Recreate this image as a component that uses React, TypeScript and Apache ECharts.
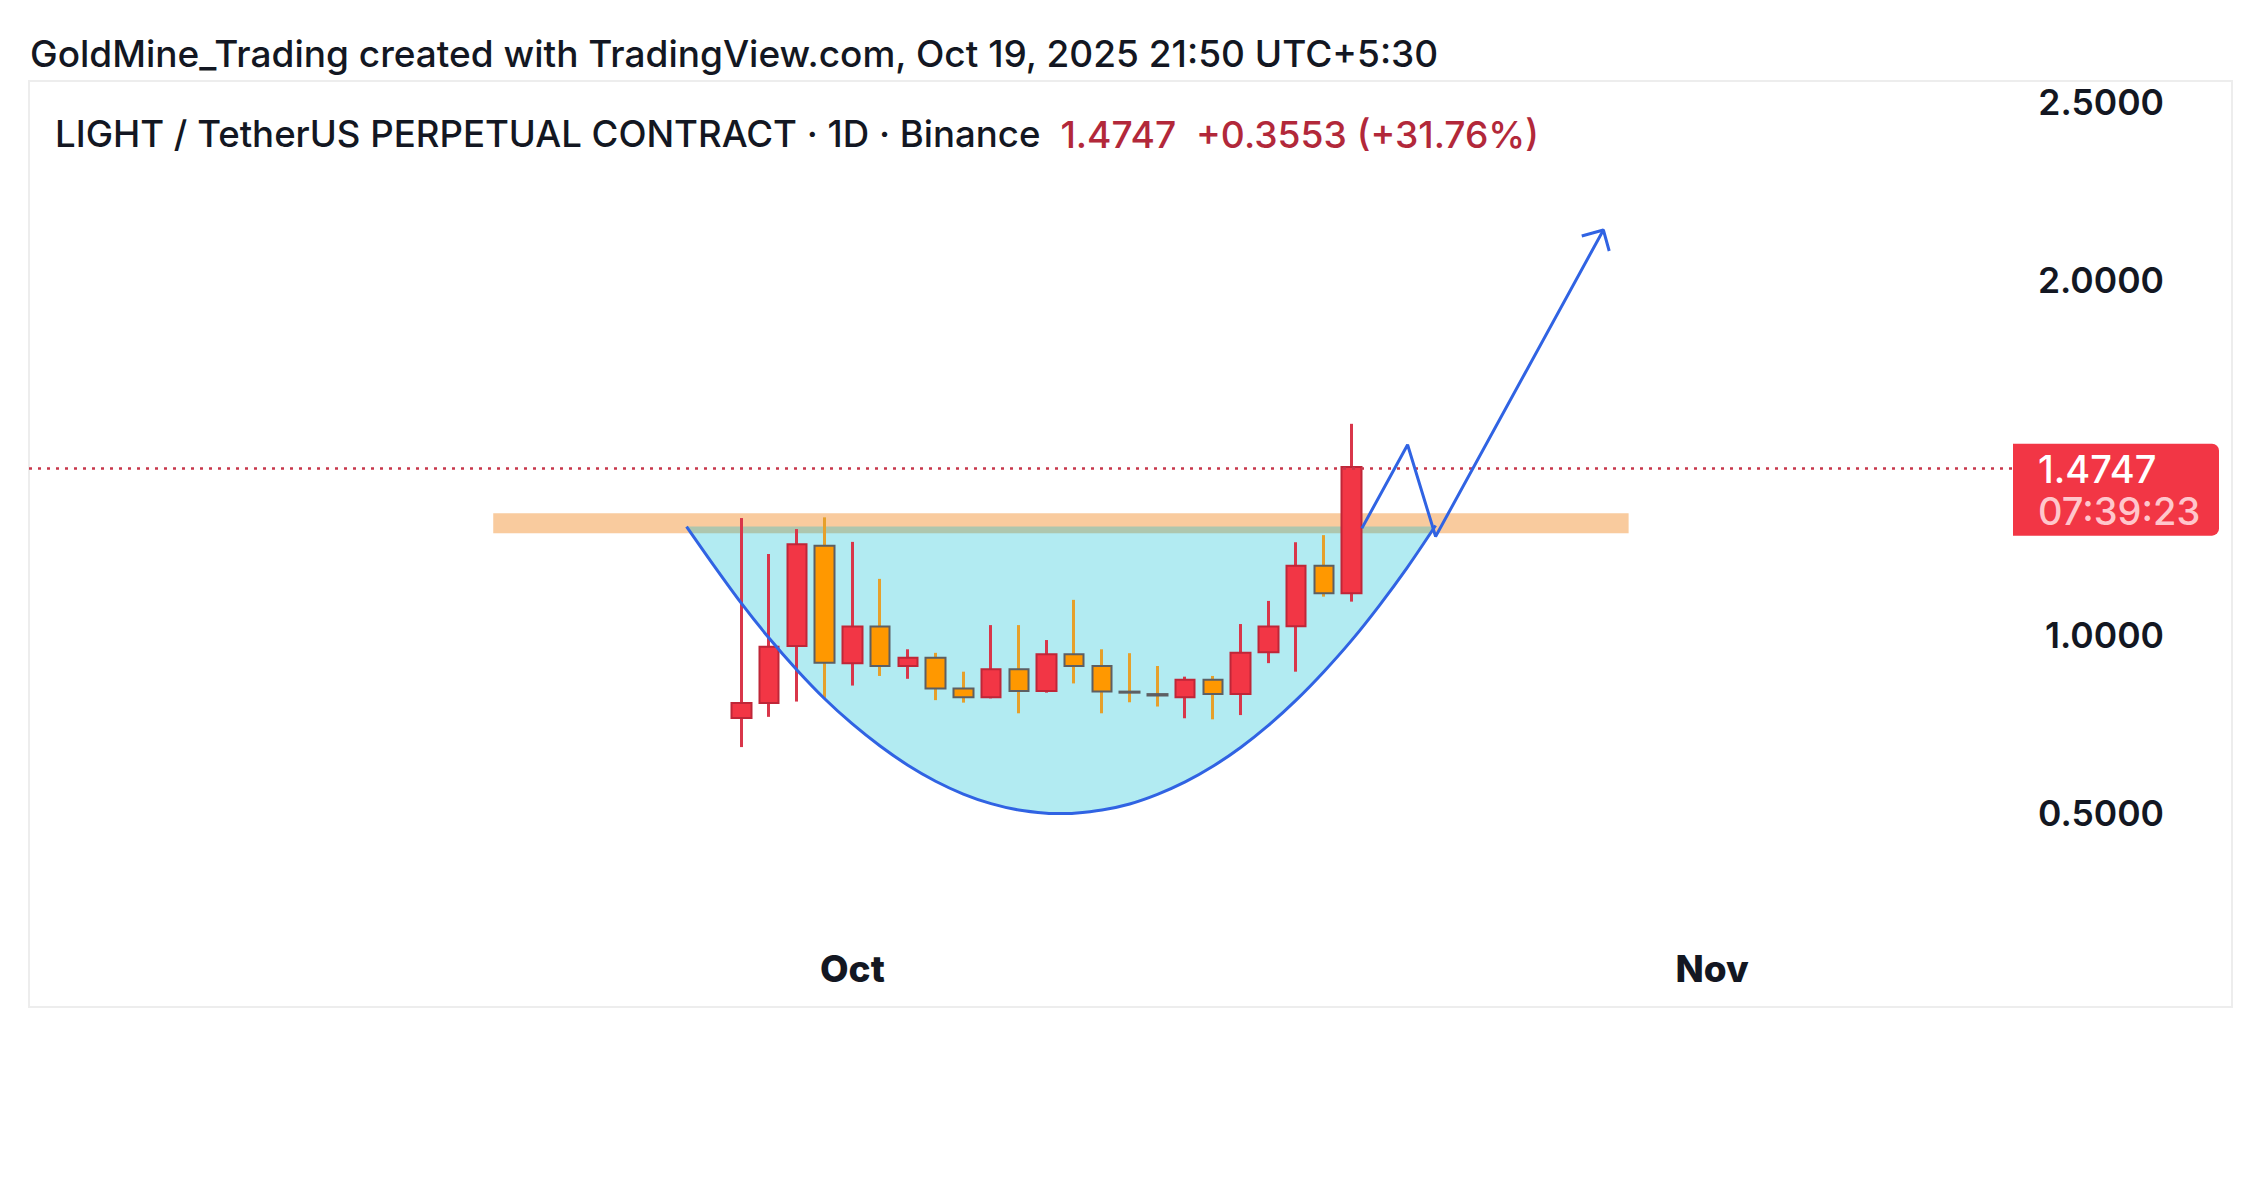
import React, { useEffect, useRef } from "react";
import * as echarts from "echarts";

// ---- data (day index 0 = Sep 27, 2025) ----
const dayLabels = ["Sep 27","Sep 28","Sep 29","Sep 30","Oct 1","Oct 2","Oct 3","Oct 4","Oct 5","Oct 6","Oct 7","Oct 8","Oct 9","Oct 10","Oct 11","Oct 12","Oct 13","Oct 14","Oct 15","Oct 16","Oct 17","Oct 18","Oct 19"];
const opens  = [0.769,0.811,0.971,1.253,0.923,1.026,0.915,0.938,0.852,0.827,0.906,0.845,0.948,0.915,0.843,0.836,0.827,0.876,0.836,0.954,1.027,1.197,1.1194];
const closes = [0.811,0.969,1.257,0.924,1.026,0.915,0.938,0.852,0.827,0.906,0.845,0.948,0.915,0.843,0.840,0.832,0.876,0.836,0.952,1.026,1.197,1.1194,1.4747];
const lows   = [0.687,0.772,0.815,0.824,0.860,0.887,0.879,0.819,0.812,0.824,0.782,0.840,0.866,0.782,0.813,0.801,0.768,0.765,0.777,0.923,0.899,1.110,1.096];
const highs  = [1.331,1.230,1.300,1.333,1.264,1.160,0.962,0.952,0.899,1.030,1.030,0.988,1.101,0.962,0.951,0.915,0.885,0.887,1.033,1.098,1.263,1.283,1.596];

const monthTicks = [4, 35];
const monthLabels = ["Oct", "Nov"];
const priceTicks = [0.5, 1.0, 2.0, 2.5];
const lastPrice = 1.4747;
const countdown = "07:39:23";

// drawings (day index, price)
const bandRange = [[-8.95, 1.3445], [31.99, 1.2883]];
const cupTop = 1.307;
const cupPoints = [[-1.98,1.307],[-1,1.198],[0,1.091],[1,0.993],[2,0.904],[3,0.823],[4,0.752],[5,0.690],[6,0.636],[7,0.591],[8,0.555],[9,0.528],[10,0.510],[11,0.501],[11.5,0.5],[12,0.501],[13,0.510],[14,0.527],[15,0.554],[16,0.589],[17,0.633],[18,0.686],[19,0.748],[20,0.819],[21,0.899],[22,0.987],[23,1.085],[24,1.191],[25.03,1.31]];
const arrowPath = [[22.37,1.302],[24.02,1.537],[25.03,1.279],[31.08,2.141]];
const arrowHead = [[30.30,2.124],[31.08,2.141],[31.29,2.082]];

const FONT = "Inter, 'Noto Sans', sans-serif";
const BLUE = "#3063e3";

export default function App() {
  const ref = useRef<HTMLDivElement>(null);
  useEffect(() => {
    document.body.style.margin = "0";
    const chart = echarts.init(ref.current!, null, { renderer: "svg" });
    const wickData = dayLabels.map((_, i) => [i, opens[i], closes[i], lows[i], highs[i]]);
    const bodyData = dayLabels.map((_, i) => [i, opens[i], closes[i], Math.min(opens[i], closes[i]), Math.max(opens[i], closes[i])]);
    const option: any = {
      animation: false,
      backgroundColor: "#ffffff",
      grid: { left: 29, right: 249, top: 81, bottom: 248 },
      xAxis: {
        type: "value", min: -25.69, max: 45.85,
        axisLine: { show: false }, axisTick: { show: false }, splitLine: { show: false },
        axisLabel: {
          customValues: monthTicks,
          formatter: (v: number) => monthLabels[monthTicks.indexOf(Math.round(v))] || "",
          margin: 28, verticalAlign: "middle",
          fontFamily: FONT, fontSize: 37, fontWeight: 800, color: "#131722",
        },
      },
      yAxis: {
        type: "value", position: "right", min: 0.1445, max: 2.56,
        axisLine: { show: false }, axisTick: { show: false }, splitLine: { show: false },
        axisLabel: {
          customValues: priceTicks,
          formatter: (v: number) => v.toFixed(4),
          align: "right", margin: 151,
          fontFamily: FONT, fontSize: 35.5, fontWeight: 600, color: "#131722",
        },
      },
      graphic: [
        { type: "rect", z: 0, shape: { x: 29, y: 81, width: 2203, height: 926 }, style: { fill: "none", stroke: "#ededed", lineWidth: 2 } },
        { type: "text", x: 30, y: 53, style: { text: "GoldMine_Trading created with TradingView.com, Oct 19, 2025 21:50 UTC+5:30", font: `500 37px ${FONT}`, fill: "#131722", verticalAlign: "middle" } },
        { type: "text", x: 55, y: 134, style: {
          text: "{a|LIGHT / TetherUS PERPETUAL CONTRACT · 1D · Binance}{b|1.4747  +0.3553 (+31.76%)}",
          verticalAlign: "middle",
          rich: {
            a: { font: `500 36.6px ${FONT}`, fill: "#131722" },
            b: { font: `500 37.2px ${FONT}`, fill: "#b2283a", padding: [0, 0, 0, 20] },
          },
        } },
      ],
      series: [
        {
          type: "line", name: "cupFill", z: 2, data: cupPoints, showSymbol: false, smooth: 0.3,
          lineStyle: { width: 0 },
          areaStyle: { color: "rgba(0,188,212,0.30)", opacity: 1, origin: cupTop },
          markArea: {
            silent: true,
            itemStyle: { color: "rgba(242,140,40,0.45)" },
            data: [[{ coord: bandRange[0] }, { coord: bandRange[1] }]],
          },
        },
        {
          type: "candlestick", name: "wicks", z: 3, data: wickData, encode: { x: 0, y: [1, 2, 3, 4] },
          barWidth: 1,
          itemStyle: { color: "#d9364a", color0: "#e6a02b", borderColor: "#d9364a", borderColor0: "#e6a02b", borderWidth: 3 },
        },
        {
          type: "candlestick", name: "bodies", z: 4, data: bodyData, encode: { x: 0, y: [1, 2, 3, 4] },
          barWidth: 20,
          itemStyle: { color: "#f23645", color0: "#ff9800", borderColor: "#bf2638", borderColor0: "#5d5f63", borderWidth: 2 },
          markLine: {
            silent: true, symbol: "none",
            lineStyle: { color: "#c8374b", type: [3, 6], width: 2.5 },
            label: {
              position: "end", distance: 0, offset: [0, 21],
              formatter: () => `{p|${lastPrice.toFixed(4)}}\n{t|${countdown}}`,
              backgroundColor: "#f23645", borderRadius: [0, 7, 7, 0],
              padding: [4, 19, 4, 25], width: 162,
              rich: {
                p: { color: "#ffffff", fontSize: 38, lineHeight: 42, fontFamily: FONT, fontWeight: 500 },
                t: { color: "#ffc6cc", fontSize: 38, lineHeight: 42, fontFamily: FONT, fontWeight: 500 },
              },
            },
            data: [{ yAxis: lastPrice }],
          },
        },
        {
          type: "line", name: "cupLine", z: 5, data: cupPoints, showSymbol: false, smooth: 0.3,
          lineStyle: { color: BLUE, width: 3 },
        },
        {
          type: "line", name: "arrow", z: 5, data: arrowPath, showSymbol: false,
          lineStyle: { color: BLUE, width: 3 },
        },
        {
          type: "line", name: "arrowHead", z: 5, data: arrowHead, showSymbol: false,
          lineStyle: { color: BLUE, width: 3 },
        },
      ],
    };
    chart.setOption(option);
    return () => chart.dispose();
  }, []);
  return <div ref={ref} style={{ position: "fixed", left: 0, top: 0, width: 2262, height: 1188 }} />;
}
